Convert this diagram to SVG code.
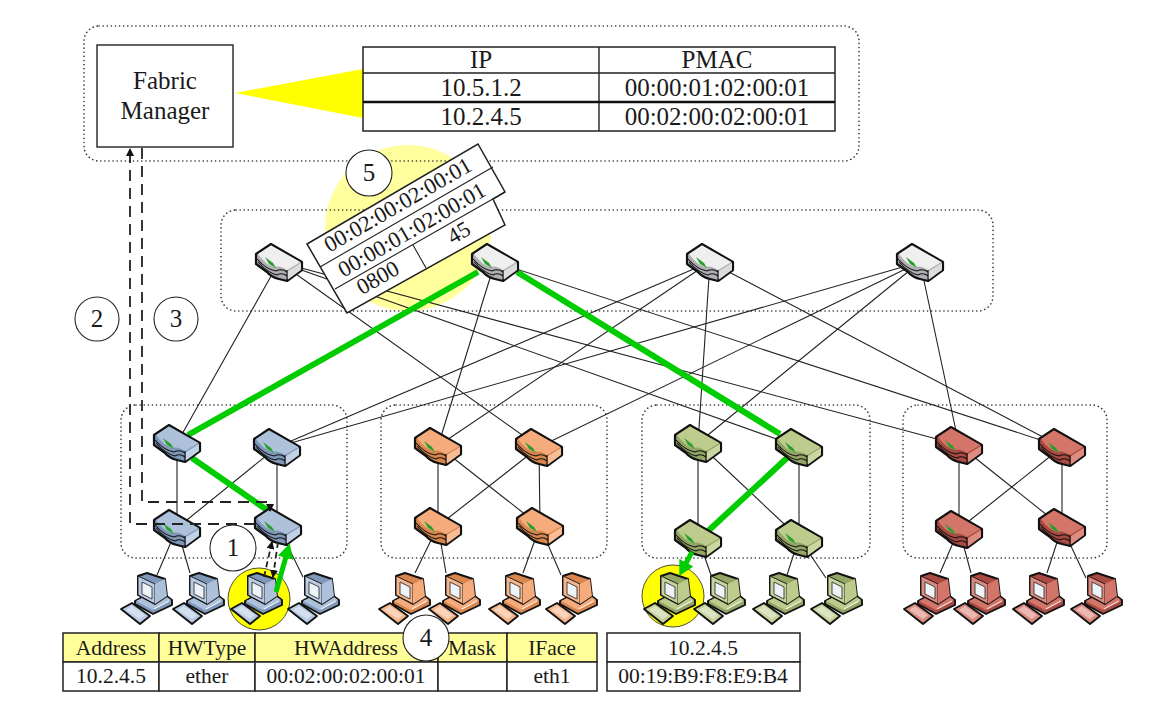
<svg xmlns="http://www.w3.org/2000/svg" xmlns:xlink="http://www.w3.org/1999/xlink" width="1170" height="718" viewBox="0 0 1170 718">
<style>
text{font-family:"Liberation Serif","Times New Roman",serif;fill:#1a1a1a;text-anchor:middle}
.dot{fill:none;stroke:#333;stroke-width:1.6;stroke-dasharray:.1 4;stroke-linecap:round}
.l{stroke:#222;stroke-width:1.1;fill:none}
.g{stroke:#00cc00;stroke-width:6;fill:none}
.d{stroke:#222;stroke-width:1.8;stroke-dasharray:11 7;fill:none}
.tb{fill:#fff;stroke:#222;stroke-width:1.5}
.hd{fill:#ffff99;stroke:#222;stroke-width:1.5}
.num{fill:#fff;stroke:#222;stroke-width:1.1}
.core{--t:#efeff0;--s:#dcdcde;--f:#b0b0b4;--p:#e6e6e8}
.blue{--t:#aec1da;--s:#c2d2e6;--f:#7f97b8;--p:#b8cbe2}
.org{--t:#f5ab7c;--s:#f8bd95;--f:#d9864e;--p:#f6b68c}
.grn{--t:#bdcb8c;--s:#cbd7a0;--f:#94a666;--p:#c6d39c}
.red{--t:#d4756a;--s:#de8b80;--f:#a94a43;--p:#dc8a80}
.rt{stroke:#111;stroke-width:2.2;stroke-linejoin:round}
.pc{stroke:#111;stroke-width:1.9;stroke-linejoin:round}
.pi{stroke:#111;stroke-width:.9;stroke-linejoin:round}
</style>
<defs>
<symbol id="router" overflow="visible" viewBox="-30 -30 60 60" width="60" height="60">
<path class="rt" style="fill:var(--f)" d="M-23-8-8-18 23 0V8L8 19 0 17Q-8 15-12 10L-23 2Z"/>
<path style="fill:var(--t)" d="M-21-8-8-16.5 21.5 0 8 8Q1 3-5 5-13 3-21-8Z"/>
<path style="fill:var(--s)" d="M9 9 22 1V8L9 17.500Z"/>
<path d="M-22-3Q-12 8-3 9 3 6 8 10M-21 0Q-11 11-2 13 3 10 8 14M8 8V18" fill="none" stroke="#111" stroke-width="1.1"/>
<path d="M-14-5-6 1-3 6-10 2Z" fill="#2aa02a"/>
</symbol>
<symbol id="pc" overflow="visible" viewBox="-30 -30 60 60" width="60" height="60">
<path class="pc" style="fill:var(--p)" d="M-29 16-18 10 0 23-10 31Z"/>
<path d="M-24 17-18 13-5 22-10 26Z" fill="#fff" opacity=".4"/>
<path class="pc" style="fill:var(--f)" d="M-15 8-4 2 14 1 22 7V12L3 21-15 11Z"/>
<path style="fill:var(--t)" d="M-14 8-4 3 14 2 21 7 3 17Z"/>
<path class="pc" style="fill:var(--f)" d="M-12-17-3-20 15-14 17 3 5 11-12 2Z"/>
<path class="pi" style="fill:var(--p)" d="M-12-17 5-9V11L-12 2Z"/>
<path style="fill:var(--t)" d="M5-9 15-14 17 3 5 11Z"/>
<path d="M-8-11 2-6V6L-8 1Z" fill="#eef3f8" stroke="#333" stroke-width=".9"/>
<path d="M4 16 19 8" stroke="#fff" stroke-width="1.4" opacity=".8"/>
</symbol>
<marker id="ak" markerUnits="userSpaceOnUse" markerWidth="8" markerHeight="8" refX="7" refY="4" orient="auto"><path d="M0 0 8 4 0 8Z" fill="#111"/></marker>
<marker id="ag" markerWidth="3" markerHeight="3.200" refX="1" refY="1.600" orient="auto"><path d="M0 0 3 1.600 0 3.200Z" fill="#00cc00"/></marker>
</defs>
<rect width="1170" height="718" fill="#fff"/>

<g id="highlights">
<circle cx="408" cy="228" r="83" fill="#ffff9e"/>
<circle cx="259" cy="599" r="31" fill="#ffff00" stroke="#222" stroke-width=".8"/>
<circle cx="673" cy="596" r="31" fill="#ffff00" stroke="#222" stroke-width=".8"/>
<path d="M235 93 363 69V118Z" fill="#ffff00"/>
</g>

<g id="regions">
<rect class="dot" x="84" y="26" width="775" height="135" rx="15"/>
<rect class="dot" x="221" y="210" width="772" height="101" rx="15"/>
<rect class="dot" x="121" y="405" width="226" height="153" rx="15"/>
<rect class="dot" x="381" y="405" width="226" height="153" rx="15"/>
<rect class="dot" x="642" y="405" width="228" height="153" rx="15"/>
<rect class="dot" x="903" y="405" width="204" height="153" rx="15"/>
</g>

<g id="connectors">
<path class="l" d="M279 262 177 443M279 262 539 447M279 262 799 447M279 262 959 445"/>
<path class="l" d="M495 262 438 446M495 262 1062 447"/>
<path class="l" d="M710 262 277 447M710 262 438 446M710 262 698 443M710 262 1062 447"/>
<path class="l" d="M920 262 277 447M920 262 539 447M920 262 698 443M920 262 959 445"/>
<path class="l" d="M177 443V528M277 447 177 528M277 447V526"/>
<path class="l" d="M438 446V526M438 446 540 526M539 447 438 526M539 447 540 526"/>
<path class="l" d="M698 443V538M698 443 799 538M799 447V538"/>
<path class="l" d="M959 445V529M959 445 1062 527M1062 447 959 529M1062 447V527"/>
<path class="l" d="M177 528 157 575M177 528 190 573M278 526 303 577"/>
<path class="l" d="M438 526 415 573M438 526 446 573M540 526 523 573M540 526 561 575"/>
<path class="l" d="M698 538 711 575M799 538 787 575M799 538 826 578"/>
<path class="l" d="M959 529 940 573M959 529 971 573M1062 527 1047 573M1062 527 1086 578"/>
</g>

<g id="node-core-1"><use href="#router" x="249" y="232" class="core"/></g>
<g id="node-core-3"><use href="#router" x="680" y="232" class="core"/></g>
<g id="node-core-4"><use href="#router" x="890" y="232" class="core"/></g>

<g id="packet-header">
<path class="tb" d="M307 244 478 144 505 192 493 199 505 225 347 313Z"/>
<path class="l" d="M320 267 493 167M335 289 505 192M413 245 426 268"/>
<text x="398" y="212" font-size="22.5" transform="rotate(-30 398 205)">00:02:00:02:00:01</text>
<text x="412" y="237" font-size="22.5" transform="rotate(-30 412 230)">00:00:01:02:00:01</text>
<text x="378" y="285" font-size="22.5" transform="rotate(-30 378 278)">0800</text>
<text x="459" y="240" font-size="22.5" transform="rotate(-30 459 233)">45</text>
</g>

<g id="green-path">
<path class="g" d="M188 435 478 272"/>
<path class="g" d="M192 458 267 510"/>
<path class="g" d="M517 272 780 434"/>
<path class="g" d="M788 457 707 532"/>
</g>

<g id="node-core-2"><use href="#router" x="465" y="232" class="core"/></g>

<g id="node-blue-a1"><use href="#router" x="147" y="413" class="blue"/></g>
<g id="node-blue-a2"><use href="#router" x="247" y="417" class="blue"/></g>
<g id="node-blue-e1"><use href="#router" x="147" y="498" class="blue"/></g>
<g id="node-blue-e2"><use href="#router" x="248" y="496" class="blue"/></g>
<g id="node-orange-a1"><use href="#router" x="408" y="416" class="org"/></g>
<g id="node-orange-a2"><use href="#router" x="509" y="417" class="org"/></g>
<g id="node-orange-e1"><use href="#router" x="408" y="496" class="org"/></g>
<g id="node-orange-e2"><use href="#router" x="510" y="496" class="org"/></g>
<g id="node-green-a1"><use href="#router" x="668" y="413" class="grn"/></g>
<g id="node-green-a2"><use href="#router" x="769" y="417" class="grn"/></g>
<g id="node-green-e1"><use href="#router" x="668" y="508" class="grn"/></g>
<g id="node-green-e2"><use href="#router" x="769" y="508" class="grn"/></g>
<g id="node-red-a1"><use href="#router" x="929" y="415" class="red"/></g>
<g id="node-red-a2"><use href="#router" x="1032" y="417" class="red"/></g>
<g id="node-red-e1"><use href="#router" x="929" y="499" class="red"/></g>
<g id="node-red-e2"><use href="#router" x="1032" y="497" class="red"/></g>

<g id="node-blue-h1"><use href="#pc" x="120" y="563" class="blue"/></g>
<g id="node-blue-h2"><use href="#pc" x="172" y="563" class="blue"/></g>
<g id="node-blue-h3"><use href="#pc" x="230" y="563" class="blue"/></g>
<g id="node-blue-h4"><use href="#pc" x="287" y="563" class="blue"/></g>
<g id="node-orange-h1"><use href="#pc" x="378" y="563" class="org"/></g>
<g id="node-orange-h2"><use href="#pc" x="428" y="563" class="org"/></g>
<g id="node-orange-h3"><use href="#pc" x="488" y="563" class="org"/></g>
<g id="node-orange-h4"><use href="#pc" x="545" y="563" class="org"/></g>
<g id="node-green-h1"><use href="#pc" x="643" y="563" class="grn"/></g>
<g id="node-green-h2"><use href="#pc" x="693" y="563" class="grn"/></g>
<g id="node-green-h3"><use href="#pc" x="752" y="563" class="grn"/></g>
<g id="node-green-h4"><use href="#pc" x="810" y="563" class="grn"/></g>
<g id="node-red-h1"><use href="#pc" x="903" y="563" class="red"/></g>
<g id="node-red-h2"><use href="#pc" x="953" y="563" class="red"/></g>
<g id="node-red-h3"><use href="#pc" x="1012" y="563" class="red"/></g>
<g id="node-red-h4"><use href="#pc" x="1070" y="563" class="red"/></g>

<g id="flow-arrows">
<path class="g" d="M276 592 287 553" marker-end="url(#ag)" style="stroke-width:5"/>
<path class="g" d="M692 552 684 567" marker-end="url(#ag)" style="stroke-width:5"/>
<path class="d" d="M255 524H130V149" marker-end="url(#ak)"/>
<path class="d" d="M142 148V502H270V511" marker-end="url(#ak)"/>
<path class="d" d="M264 577 272 542" marker-end="url(#ak)" style="stroke-dasharray:6 4"/>
<path class="d" d="M278 542 273 577" marker-end="url(#ak)" style="stroke-dasharray:6 4"/>
</g>

<g id="node-fabric-manager">
<rect x="97" y="45" width="136" height="102" fill="#fff" stroke="#222" stroke-width="1.4"/>
<text x="165" y="89" font-size="25">Fabric</text>
<text x="165" y="119" font-size="25">Manager</text>
</g>

<g id="table-pmac">
<rect class="tb" x="363" y="47" width="472" height="84"/>
<path class="l" d="M599 47V131M363 73H835" style="stroke-width:1.4"/>
<path d="M363 102H835" stroke="#111" stroke-width="2.4"/>
<g font-size="25">
<text x="481" y="68">IP</text><text x="717" y="68">PMAC</text>
<text x="481" y="96">10.5.1.2</text><text x="717" y="96">00:00:01:02:00:01</text>
<text x="481" y="125">10.2.4.5</text><text x="717" y="125">00:02:00:02:00:01</text>
</g>
</g>

<g id="table-arp" font-size="21.5">
<rect class="hd" x="63" y="633" width="96" height="29"/><rect class="hd" x="159" y="633" width="96" height="29"/><rect class="hd" x="255" y="633" width="183" height="29"/><rect class="hd" x="438" y="633" width="69" height="29"/><rect class="hd" x="507" y="633" width="90" height="29"/>
<rect class="tb" x="63" y="662" width="96" height="29"/><rect class="tb" x="159" y="662" width="96" height="29"/><rect class="tb" x="255" y="662" width="183" height="29"/><rect class="tb" x="438" y="662" width="69" height="29"/><rect class="tb" x="507" y="662" width="90" height="29"/>
<text x="111" y="655">Address</text><text x="207" y="655">HWType</text><text x="346" y="655">HWAddress</text><text x="472" y="655">Mask</text><text x="552" y="655">IFace</text>
<text x="111" y="683">10.2.4.5</text><text x="207" y="683">ether</text><text x="346" y="683">00:02:00:02:00:01</text><text x="552" y="683">eth1</text>
</g>

<g id="table-mac" font-size="21.5">
<rect class="tb" x="607" y="633" width="193" height="29"/><rect class="tb" x="607" y="662" width="193" height="29"/>
<text x="703" y="655">10.2.4.5</text><text x="703" y="683">00:19:B9:F8:E9:B4</text>
</g>

<g id="step-labels" font-size="25">
<g id="step-1"><circle class="num" cx="233" cy="548" r="23"/><text x="233" y="556">1</text></g>
<g id="step-2"><circle class="num" cx="97" cy="319" r="22"/><text x="97" y="327">2</text></g>
<g id="step-3"><circle class="num" cx="176" cy="319" r="22"/><text x="176" y="327">3</text></g>
<g id="step-4"><circle class="num" cx="426" cy="638" r="23"/><text x="426" y="646">4</text></g>
<g id="step-5"><circle class="num" cx="369" cy="173" r="23"/><text x="369" y="181">5</text></g>
</g>
</svg>
